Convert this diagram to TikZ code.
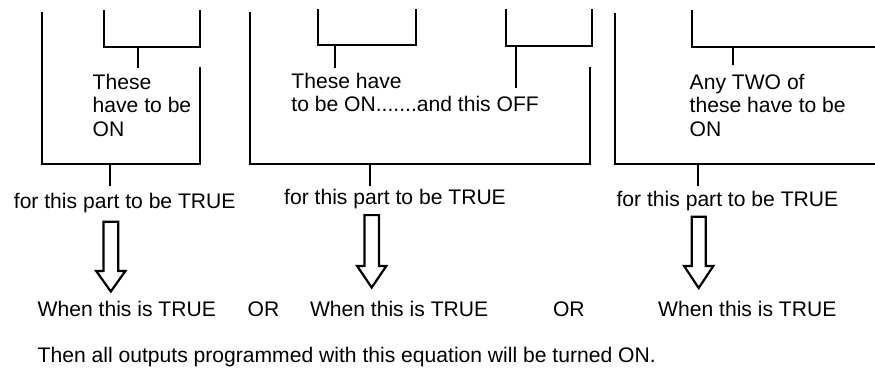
\documentclass[tikz,border=0pt]{standalone}
\usepackage{fontspec}
\setmainfont{Liberation Sans}
\newcommand\hollowarrow[5]{% cx, top, shoulder, tip, half shaft
  \draw[hollow] ({#1-#5},#2) -- ({#1+#5},#2) -- ({#1+#5},#3) -- ({#1+14.6},#3)
    -- (#1,#4) -- ({#1-14.6},#3) -- ({#1-#5},#3) -- cycle;}
\begin{document}
\begin{tikzpicture}[x=1pt,y=-1pt,
  lbl/.style={inner sep=0pt, anchor=base west, align=left,
    font=\fontsize{21.1}{23.6}\selectfont},
  bracket/.style={draw=black, line width=2pt, line cap=butt, line join=miter},
  stem/.style={draw=black, line width=2pt},
  hollow/.style={draw=black, fill=white, line width=2.2pt, line join=miter}]
\useasboundingbox (0,0) rectangle (875,373);

% brackets
\draw[bracket] (42,12) |- (200,164) -- (200,67);
\draw[bracket] (104,10) |- (200,47) -- (200,10);
\draw[bracket] (250,12) |- (590,163.5) -- (590,67);
\draw[bracket] (317.5,8.5) |- (415.5,44.5) -- (415.5,8.5);
\draw[bracket] (505.5,9) |- (592,45.5) -- (592,9);
\draw[bracket] (615,12.5) |- (880,164);
\draw[bracket] (692,10) |- (880,46.5);

% text nodes (base anchor = baseline of last line)
\node[lbl] (t1) at (92.5,136.5) {These\\have to be\\ON};
\node[lbl] (t2) at (291.2,111.9) {These have\\to be ON.......and this OFF};
\node[lbl] (t3) at (689.5,136.5) {Any TWO of\\these have to be\\ON};
\node[lbl] (f1) at (13.7,208.3) {for this part to be TRUE};
\node[lbl] (f2) at (284,204.5) {for this part to be TRUE};
\node[lbl] (f3) at (616.4,206) {for this part to be TRUE};
\node[lbl] (w1) at (37.5,316.7) {When this is TRUE};
\node[lbl] (or1) at (247.5,316.7) {OR};
\node[lbl] (w2) at (309.8,316.5) {When this is TRUE};
\node[lbl] (or2) at (552.8,316.3) {OR};
\node[lbl] (w3) at (658,316.3) {When this is TRUE};
\node[lbl] (th) at (37.5,362.7) {Then all outputs programmed with this equation will be turned ON.};

% stem coordinates
\coordinate (s1a) at (138,47);   \coordinate (s1b) at (138,68);
\coordinate (s2a) at (334.5,44.5); \coordinate (s2b) at (334.5,68);
\coordinate (s3a) at (516,45.5); \coordinate (s3b) at (516,88);
\coordinate (s4a) at (732.5,46.5); \coordinate (s4b) at (732.5,65);
\coordinate (b1a) at (110,164);  \coordinate (b1b) at (110,186);
\coordinate (b2a) at (369.5,163.5); \coordinate (b2b) at (369.5,186);
\coordinate (b3a) at (698,164);  \coordinate (b3b) at (698,186);
\draw[stem] (s1a) -- (s1b);
\draw[stem] (s2a) -- (s2b);
\draw[stem] (s3a) -- (s3b);
\draw[stem] (s4a) -- (s4b);
\draw[stem] (b1a) -- (b1b);
\draw[stem] (b2a) -- (b2b);
\draw[stem] (b3a) -- (b3b);

% hollow arrows
\hollowarrow{110.8}{221.8}{271}{291.5}{7.4}
\hollowarrow{371.7}{215.1}{266}{287.5}{7.3}
\hollowarrow{698.7}{216.8}{266}{288}{7.0}
\end{tikzpicture}
\end{document}
